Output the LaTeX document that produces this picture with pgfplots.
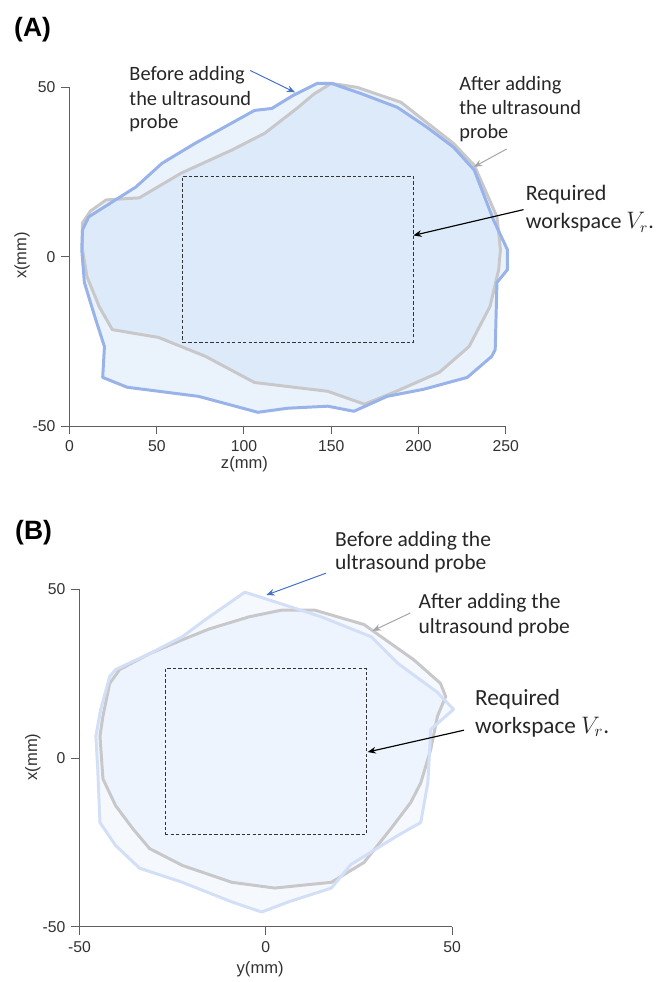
\documentclass[border=0pt]{standalone}
\usepackage{pgfplots}
\pgfplotsset{compat=1.18}
\usepackage{fontspec}
\setmainfont{Carlito}
\newfontfamily\arialf{Liberation Sans}
\usetikzlibrary{arrows.meta}
\definecolor{blineA}{RGB}{152,178,234}
\definecolor{glineA}{RGB}{200,200,202}
\definecolor{fillA}{RGB}{196,219,247}
\definecolor{blineB}{RGB}{210,223,247}
\definecolor{glineB}{RGB}{200,200,202}
\definecolor{fillB}{RGB}{205,225,250}
\definecolor{axgray}{RGB}{95,95,95}
\definecolor{tickc}{RGB}{50,50,50}
\definecolor{arrblue}{RGB}{68,114,196}
\definecolor{arrgray}{RGB}{165,165,165}
\pgfplotsset{
  commonax/.style={
    scale only axis, clip=false,
    axis lines=left,
    axis line style={-, draw=axgray, line width=0.6pt},
    tick align=outside, major tick length=5pt,
    tick style={draw=axgray, line width=0.6pt},
    tick label style={font=\arialf\fontsize{9.5}{11}\selectfont, text=tickc},
    /pgf/number format/assume math mode=true,
    label style={font=\arialf\fontsize{10}{12}\selectfont, text=tickc},
  }
}
\begin{document}
\begin{tikzpicture}
\begin{scope}[x=0.6pt,y=-0.6pt]
\useasboundingbox (0,0) rectangle (660,982);
\end{scope}

% ---------------- Panel A ----------------
\begin{axis}[commonax,
  at={(42pt,-257.4pt)}, anchor=south west,
  width=263.4pt, height=204.6pt,
  xmin=0, xmax=250, ymin=-50, ymax=50,
  xtick={0,50,100,150,200,250}, ytick={-50,0,50},
  xlabel={z(mm)}, ylabel={x(mm)},
  xlabel style={at={(axis description cs:0.401,-0.111)}, anchor=center},
  ylabel style={at={(axis description cs:-0.109,0.504)}, anchor=center},
]
% fills
\addplot[draw=none, fill=fillA, fill opacity=0.35] coordinates {
(140,48) (150,51.2) (165,50) (190,45.6) (220,33.5) (232,27) (245,11.8) (247,2.1) (246,-3.8) (241,-14.7) (229,-26.5) (212,-34.1) (186,-40) (169,-43.5) (148,-39.7) (106,-37.1) (78,-29.4) (51,-23.8) (24.5,-21.5) (17,-14.7) (10,-5.9) (7.4,2.1) (7.4,10) (12,13.5) (21,16.8) (40,17.4) (64,24.7) (93,31.5) (112,36.5) (131,44.1)
} -- cycle;
\addplot[draw=none, fill=fillA, fill opacity=0.35] coordinates {
(142,51.2) (150,51.2) (167,48.2) (188,44.1) (205,38.2) (220,32.4) (232,25.6) (243,10.9) (251,2.1) (251,-3.8) (245,-7.6) (244,-27.4) (242,-29.4) (228,-35.6) (203,-39.1) (182,-41.2) (163,-45.6) (148,-44.1) (125,-44.7) (108,-45.9) (74,-41.2) (33,-38.5) (19,-35.6) (20,-26.5) (15,-18.5) (8.5,-7.6) (7,2.1) (7.4,7.9) (11,11.8) (38,20.6) (53,27.6) (72,33.5) (106,43.2) (116,43.8) (128,47.6)
} -- cycle;
% outlines
\addplot[draw=glineA, line width=1.8pt, line join=round] coordinates {
(140,48) (150,51.2) (165,50) (190,45.6) (220,33.5) (232,27) (245,11.8) (247,2.1) (246,-3.8) (241,-14.7) (229,-26.5) (212,-34.1) (186,-40) (169,-43.5) (148,-39.7) (106,-37.1) (78,-29.4) (51,-23.8) (24.5,-21.5) (17,-14.7) (10,-5.9) (7.4,2.1) (7.4,10) (12,13.5) (21,16.8) (40,17.4) (64,24.7) (93,31.5) (112,36.5) (131,44.1)
} -- cycle;
\addplot[draw=blineA, line width=1.8pt, line join=round] coordinates {
(142,51.2) (150,51.2) (167,48.2) (188,44.1) (205,38.2) (220,32.4) (232,25.6) (243,10.9) (251,2.1) (251,-3.8) (245,-7.6) (244,-27.4) (242,-29.4) (228,-35.6) (203,-39.1) (182,-41.2) (163,-45.6) (148,-44.1) (125,-44.7) (108,-45.9) (74,-41.2) (33,-38.5) (19,-35.6) (20,-26.5) (15,-18.5) (8.5,-7.6) (7,2.1) (7.4,7.9) (11,11.8) (38,20.6) (53,27.6) (72,33.5) (106,43.2) (116,43.8) (128,47.6)
} -- cycle;
% required workspace
\addplot[draw=black!80, line width=0.6pt, dash pattern=on 2pt off 1.3pt] coordinates {
(65,-25.2) (197,-25.2) (197,23.8) (65,23.8)
} -- cycle;
\end{axis}

% ---------------- Panel B ----------------
\begin{axis}[commonax,
  at={(48pt,-559.8pt)}, anchor=south west,
  width=225pt, height=204pt,
  xmin=-50, xmax=50, ymin=-50, ymax=50,
  xtick={-50,0,50}, ytick={-50,0,50},
  xlabel={y(mm)}, ylabel={x(mm)},
  xlabel style={at={(axis description cs:0.485,-0.124)}, anchor=center},
  ylabel style={at={(axis description cs:-0.125,0.503)}, anchor=center},
]
\addplot[draw=none, fill=fillB, fill opacity=0.2] coordinates {
(4.3,43.8) (13.1,43.8) (26.4,39.5) (39.7,29.1) (46.9,22.1) (48.3,18.2) (46.1,12.4) (44.3,2.6) (41.6,-7.4) (38.9,-13.2) (33.6,-20.9) (26.4,-30.9) (17.6,-36.8) (2.4,-38.5) (-9.1,-36.8) (-22.4,-31.8) (-31.2,-26.8) (-35.7,-20.9) (-40.3,-14.1) (-43.7,-6.2) (-44.5,6.5) (-43.7,12.4) (-41.9,22.1) (-39.2,26.2) (-31.2,30.9) (-22.4,35) (-15.2,38.2) (-4.5,41.8)
} -- cycle;
\addplot[draw=none, fill=fillB, fill opacity=0.2] coordinates {
(-5.6,49.1) (4.3,45.6) (14.9,41.8) (28.3,35.9) (35.5,28) (46,19.5) (50.4,14.4) (44.3,8.5) (43.5,-7.4) (41.6,-19.1) (35.5,-22.9) (22.9,-31.5) (17.6,-38.5) (6.1,-42.6) (-1.1,-45.6) (-9.1,-42.6) (-22.4,-36.8) (-33.9,-32.6) (-40.3,-25.9) (-44.5,-19.1) (-45.1,-3.2) (-45.6,6.5) (-44.3,14.4) (-41.9,24.1) (-40.3,26.2) (-31.2,30.9) (-22.4,35.9) (-16.3,40.9)
} -- cycle;
\addplot[draw=glineB, line width=1.8pt, line join=round] coordinates {
(4.3,43.8) (13.1,43.8) (26.4,39.5) (39.7,29.1) (46.9,22.1) (48.3,18.2) (46.1,12.4) (44.3,2.6) (41.6,-7.4) (38.9,-13.2) (33.6,-20.9) (26.4,-30.9) (17.6,-36.8) (2.4,-38.5) (-9.1,-36.8) (-22.4,-31.8) (-31.2,-26.8) (-35.7,-20.9) (-40.3,-14.1) (-43.7,-6.2) (-44.5,6.5) (-43.7,12.4) (-41.9,22.1) (-39.2,26.2) (-31.2,30.9) (-22.4,35) (-15.2,38.2) (-4.5,41.8)
} -- cycle;
\addplot[draw=blineB, line width=1.8pt, line join=round] coordinates {
(-5.6,49.1) (4.3,45.6) (14.9,41.8) (28.3,35.9) (35.5,28) (46,19.5) (50.4,14.4) (44.3,8.5) (43.5,-7.4) (41.6,-19.1) (35.5,-22.9) (22.9,-31.5) (17.6,-38.5) (6.1,-42.6) (-1.1,-45.6) (-9.1,-42.6) (-22.4,-36.8) (-33.9,-32.6) (-40.3,-25.9) (-44.5,-19.1) (-45.1,-3.2) (-45.6,6.5) (-44.3,14.4) (-41.9,24.1) (-40.3,26.2) (-31.2,30.9) (-22.4,35.9) (-16.3,40.9)
} -- cycle;
\addplot[draw=black!80, line width=0.6pt, dash pattern=on 2pt off 1.3pt] coordinates {
(-27,-22.6) (27,-22.6) (27,26.5) (-27,26.5)
} -- cycle;
\end{axis}

% ---------------- Annotations ----------------
\begin{scope}[x=0.6pt,y=-0.6pt]
\node[anchor=base west, inner sep=0pt, font=\arialf\bfseries\fontsize{16}{18}\selectfont] at (14,37) {(A)};
\node[anchor=base west, inner sep=0pt, font=\arialf\bfseries\fontsize{16}{18}\selectfont] at (15,543) {(B)};

\begin{scope}[every node/.style={anchor=base west, inner sep=0pt, font=\fontsize{12.3}{14.7}\selectfont, text=black!85}]
\node at (130,81) {Before adding};
\node at (130,106) {the ultrasound};
\node at (130,129) {probe};
\node at (462,91) {After adding};
\node at (462,115) {the ultrasound};
\node at (462,139) {probe};
\end{scope}
\begin{scope}[every node/.style={anchor=base west, inner sep=0pt, font=\fontsize{13.3}{16}\selectfont, text=black!85}]
\node at (529,202) {Required};
\node at (529,230) {workspace $V_{r}$.};
\end{scope}
\draw[arrblue, line width=0.6pt, -{Stealth[length=5pt,width=4pt]}] (252,71) -- (297,93);
\draw[arrgray, line width=0.6pt, -{Stealth[length=5pt,width=4pt]}] (510,150) -- (477,168);
\draw[black, line width=0.7pt, -{Stealth[length=5pt,width=4pt]}] (527,211) -- (416,237);

\begin{scope}[every node/.style={anchor=base west, inner sep=0pt, font=\fontsize{13}{15.6}\selectfont, text=black!85}]
\node at (337,550) {Before adding the};
\node at (337,573) {ultrasound probe};
\node at (421,613) {After adding the};
\node at (421,638) {ultrasound probe};
\end{scope}
\begin{scope}[every node/.style={anchor=base west, inner sep=0pt, font=\fontsize{14}{17}\selectfont, text=black!85}]
\node at (478,710) {Required};
\node at (478,738) {workspace $V_{r}$.};
\end{scope}
\draw[arrblue, line width=0.6pt, -{Stealth[length=5pt,width=4pt]}] (328,577) -- (268,599);
\draw[arrgray, line width=0.6pt, -{Stealth[length=5pt,width=4pt]}] (413,617) -- (375,635);
\draw[black, line width=0.7pt, -{Stealth[length=5pt,width=4pt]}] (467,735) -- (370,757);
\end{scope}
\end{tikzpicture}
\end{document}
